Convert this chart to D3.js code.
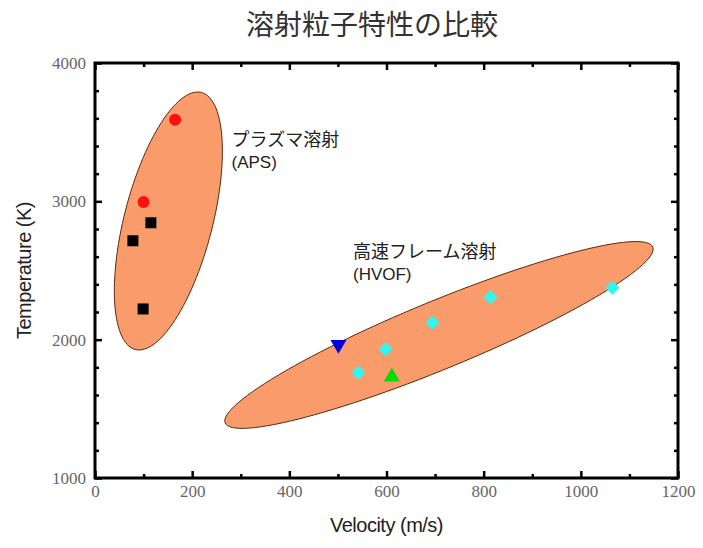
<!DOCTYPE html>
<html>
<head>
<meta charset="utf-8">
<script src="https://cdn.jsdelivr.net/npm/d3@7/dist/d3.min.js"></script>
<style>
  body { margin: 0; background: #fff; }
</style>
</head>
<body>
<svg id="chart" width="703" height="548"></svg>
<script>
// plasma spray (APS)
const apsRed = [[165, 3590], [100, 2995]];
const apsBlack = [[115, 2845], [78, 2715], [99, 2222]];
// HVOF
const hvofCyan = [[542, 1761], [598, 1933], [694, 2125], [814, 2306], [1065, 2376]];
const hvofBlue = [[501, 1965]];
const hvofGreen = [[611, 1730]];

// ellipses: centre, end of major semi-axis, end of minor semi-axis (data units)
const ellipses = [
  { c: [151, 2858], a: [219, 3787], b: [239, 2778] },
  { c: [708, 2034], a: [1148, 2670], b: [735, 1807] }
];

const xTicks = [0, 200, 400, 600, 800, 1000, 1200];
const xMinor = [100, 300, 500, 700, 900, 1100];
const yTicks = [1000, 2000, 3000, 4000];
const yMinor = [1200, 1400, 1600, 1800, 2200, 2400, 2600, 2800, 3200, 3400, 3600, 3800];

const labels = [
  { name: "プラズマ溶射", abbr: "(APS)", at: [281, 3400] },
  { name: "高速フレーム溶射", abbr: "(HVOF)", at: [531, 2590] }
];

const svg = d3.select("#chart");
const mLeft = 95, mRight = 678, mTop = 63, mBottom = 478;

const x = d3.scaleLinear().domain([0, 1200]).range([mLeft, mRight]);
const y = d3.scaleLinear().domain([1000, 4000]).range([mBottom, mTop]);

// title
svg.append("text")
  .attr("x", 372).attr("y", 35)
  .attr("text-anchor", "middle")
  .style("font-family", "'Noto Sans CJK JP'")
  .style("font-size", "28px")
  .attr("fill", "#333")
  .text("溶射粒子特性の比較");

// ellipses
ellipses.forEach(function (e) {
  const cx = x(e.c[0]), cy = y(e.c[1]);
  const ax = x(e.a[0]) - cx, ay = y(e.a[1]) - cy;
  const bx = x(e.b[0]) - cx, by = y(e.b[1]) - cy;
  const pts = d3.range(0, 360, 3).map(function (deg) {
    const t = deg * Math.PI / 180;
    return [cx + ax * Math.cos(t) + bx * Math.sin(t), cy + ay * Math.cos(t) + by * Math.sin(t)];
  });
  svg.append("path")
    .attr("d", d3.line().curve(d3.curveCardinalClosed)(pts))
    .attr("fill", "#f99b6a")
    .attr("stroke", "#5a2a10")
    .attr("stroke-width", 1);
});

// axes
const tickFont = function (g) {
  g.select(".domain").remove();
  g.selectAll(".tick line").attr("stroke", "#000").attr("stroke-width", 2.5);
  g.selectAll("text")
    .style("font-family", "'Liberation Serif'")
    .style("font-size", "17px")
    .attr("fill", "#666");
};

svg.append("g").attr("transform", "translate(0," + mBottom + ")")
  .call(d3.axisBottom(x).tickValues(xTicks).tickSizeInner(-7).tickSizeOuter(0).tickPadding(7).tickFormat(d3.format("d")))
  .call(tickFont);
svg.append("g").attr("transform", "translate(0," + mBottom + ")")
  .call(d3.axisBottom(x).tickValues(xMinor).tickSizeInner(-4).tickSizeOuter(0).tickFormat(""))
  .call(tickFont);
svg.append("g").attr("transform", "translate(0," + mTop + ")")
  .call(d3.axisTop(x).tickValues(xTicks).tickSizeInner(-7).tickSizeOuter(0).tickFormat(""))
  .call(tickFont);
svg.append("g").attr("transform", "translate(0," + mTop + ")")
  .call(d3.axisTop(x).tickValues(xMinor).tickSizeInner(-4).tickSizeOuter(0).tickFormat(""))
  .call(tickFont);

svg.append("g").attr("transform", "translate(" + mLeft + ",0)")
  .call(d3.axisLeft(y).tickValues(yTicks).tickSizeInner(-7).tickSizeOuter(0).tickPadding(9).tickFormat(d3.format("d")))
  .call(tickFont);
svg.append("g").attr("transform", "translate(" + mLeft + ",0)")
  .call(d3.axisLeft(y).tickValues(yMinor).tickSizeInner(-4).tickSizeOuter(0).tickFormat(""))
  .call(tickFont);
svg.append("g").attr("transform", "translate(" + mRight + ",0)")
  .call(d3.axisRight(y).tickValues(yTicks).tickSizeInner(-7).tickSizeOuter(0).tickFormat(""))
  .call(tickFont);
svg.append("g").attr("transform", "translate(" + mRight + ",0)")
  .call(d3.axisRight(y).tickValues(yMinor).tickSizeInner(-4).tickSizeOuter(0).tickFormat(""))
  .call(tickFont);

// frame
svg.append("rect")
  .attr("x", mLeft).attr("y", mTop)
  .attr("width", mRight - mLeft).attr("height", mBottom - mTop)
  .attr("fill", "none").attr("stroke", "#000").attr("stroke-width", 3);

// axis titles
svg.append("text")
  .attr("x", (mLeft + mRight) / 2).attr("y", 532)
  .attr("text-anchor", "middle")
  .style("font-family", "'Liberation Sans'")
  .style("font-size", "20px")
  .style("letter-spacing", "-0.5px")
  .attr("fill", "#222")
  .text("Velocity (m/s)");
svg.append("text")
  .attr("transform", "translate(31," + (mTop + mBottom) / 2 + ") rotate(-90)")
  .attr("text-anchor", "middle")
  .style("font-family", "'Liberation Sans'")
  .style("font-size", "20px")
  .style("letter-spacing", "-0.5px")
  .attr("fill", "#222")
  .text("Temperature (K)");

// markers
svg.selectAll(".red").data(apsRed).enter().append("circle")
  .attr("cx", d => x(d[0])).attr("cy", d => y(d[1])).attr("r", 6)
  .attr("fill", "#ff1010");
svg.selectAll(".sq").data(apsBlack).enter().append("path")
  .attr("transform", d => "translate(" + x(d[0]) + "," + y(d[1]) + ")")
  .attr("d", d3.symbol(d3.symbolSquare, 121))
  .attr("fill", "#000");
svg.selectAll(".dia").data(hvofCyan).enter().append("path")
  .attr("transform", d => "translate(" + x(d[0]) + "," + y(d[1]) + ") rotate(45)")
  .attr("d", d3.symbol(d3.symbolSquare, 100))
  .attr("fill", "#33f5ee");
svg.selectAll(".blue").data(hvofBlue).enter().append("path")
  .attr("transform", d => "translate(" + x(d[0]) + "," + y(d[1]) + ") rotate(180)")
  .attr("d", d3.symbol(d3.symbolTriangle, 110))
  .attr("fill", "#0000dd");
svg.selectAll(".green").data(hvofGreen).enter().append("path")
  .attr("transform", d => "translate(" + x(d[0]) + "," + y(d[1]) + ")")
  .attr("d", d3.symbol(d3.symbolTriangle, 110))
  .attr("fill", "#00dd00");

// annotations
labels.forEach(function (l) {
  svg.append("text")
    .attr("x", x(l.at[0])).attr("y", y(l.at[1]))
    .style("font-family", "'Noto Sans CJK JP'")
    .style("font-size", "18px")
    .attr("fill", "#222")
    .text(l.name);
  svg.append("text")
    .attr("x", x(l.at[0])).attr("y", y(l.at[1]) + 22)
    .style("font-family", "'Liberation Sans'")
    .style("font-size", "17px")
    .attr("fill", "#222")
    .text(l.abbr);
});
</script>
</body>
</html>
